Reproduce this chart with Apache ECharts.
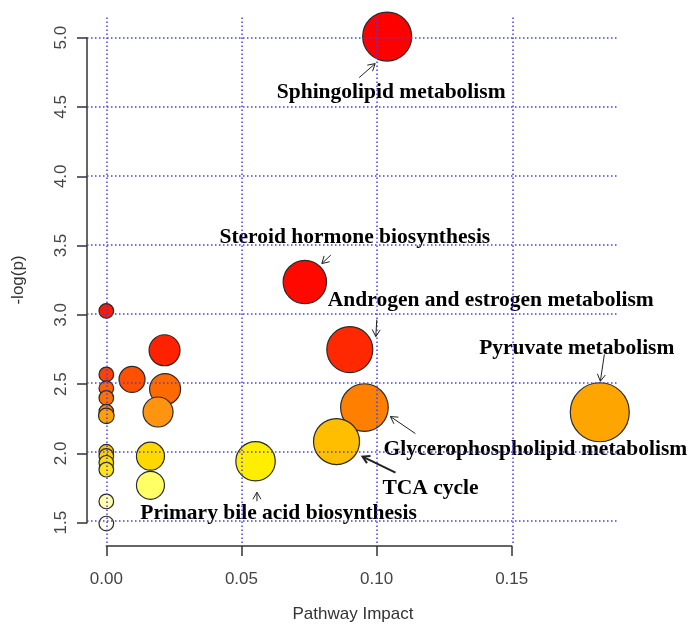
<!DOCTYPE html>
<html>
<head>
<meta charset="utf-8">
<script src="https://cdn.jsdelivr.net/npm/echarts@6/dist/echarts.min.js"></script>
<style>html,body{margin:0;padding:0;background:#fff;}#c{width:693px;height:628px;}</style>
</head>
<body>
<div id="c"></div>
<script>
// ---- data (ordered by -log(p), descending) ----
const pathways = ['Sphingolipid metabolism','Steroid hormone biosynthesis','','Androgen and estrogen metabolism','','','','','','','Glycerophospholipid metabolism','','','Pyruvate metabolism','','TCA cycle','','','','Primary bile acid biosynthesis','','','','',''];
const impact = [0.1037,0.0733,0,0.0899,0.0215,0,0.0095,0,0.0217,0,0.0953,0,0.0191,0.1822,0,0.0850,0,0.0163,0,0.0551,0,0,0.0163,0,0];
const logp   = [5.007,3.229,3.02,2.740,2.735,2.56,2.524,2.46,2.454,2.39,2.32,2.29,2.288,2.286,2.26,2.074,2.0,1.968,1.97,1.931,1.92,1.87,1.757,1.64,1.48];
const bubbleRadius = [24.5,21.7,7.3,23,15.5,7.3,13,7.3,15.5,7.3,23.8,7.3,15,29.5,7.8,23,7.3,14,7.3,19.7,7.3,7.3,14,7.3,7.3];
const colors = ['#FF0000','#FF0800','#FF1A00','#FF2800','#FF2200','#FF4000','#FF5000','#FF6000','#FF6A00','#FF7000','#FF8000','#FF8800','#FF9410','#FFA500','#FFA000','#FFBE00','#FFC800','#FFD800','#FFD000','#FFEE00','#FFDC00','#FFE41A','#FFFF66','#FFFFA8','#FFFFEE'];
const xTicks = [0, 0.05, 0.10, 0.15];
const yTicks = [1.5, 2.0, 2.5, 3.0, 3.5, 4.0, 4.5, 5.0];
const xTickLabels = ['0.00','0.05','0.10','0.15'];
const yTickLabels = ['1.5','2.0','2.5','3.0','3.5','4.0','4.5','5.0'];

// ---- annotation styling (pixel offsets relative to bubble centre) ----
const annot = {
  'Sphingolipid metabolism':        {text:[4,56],   tail:[-28,41], head:[-12,27], w:1},
  'Steroid hormone biosynthesis':   {text:[50,-45], tail:[26,-27], head:[17,-18.5], w:1},
  'Androgen and estrogen metabolism':{text:[141,-49],tail:[27,-30], head:[26,-13], w:1},
  'Pyruvate metabolism':            {text:[-23,-64],tail:[4.6,-58],head:[0.6,-31], w:1},
  'Glycerophospholipid metabolism': {text:[171,42], tail:[51,26],  head:[26,9],   w:1},
  'TCA cycle':                      {text:[94,47],  tail:[59,31],  head:[26,15],  w:2},
  'Primary bile acid biosynthesis': {text:[23,52],  tail:[1.4,40], head:[1.4,31], w:1}
};

const chart = echarts.init(document.getElementById('c'), null, {renderer:'canvas'});
const axisFont = {fontFamily:'Liberation Sans', fontSize:17, color:'#444'};

const data = impact.map((x,i)=>({
  value:[x, logp[i]],
  name: pathways[i],
  symbolSize: bubbleRadius[i]*2,
  itemStyle:{color:colors[i]},
  label: pathways[i] ? {show:true, offset: annot[pathways[i]].text} : {show:false}
}));

const gridColor = '#4040f0';
const option = {
  animation:false,
  backgroundColor:'#fff',
  grid:[
    {left:87, right:74, top:17, bottom:83},
    {left:106.3, right:181.3, top:37.7, bottom:105.3}
  ],
  xAxis:[
    {gridIndex:0, type:'value', min:-0.00713, max:0.1893,
     axisLine:{show:false, onZero:false}, axisTick:{show:false}, axisLabel:{show:false}, splitLine:{show:false},
     name:'Pathway Impact', nameLocation:'middle', nameGap:63,
     nameTextStyle:{fontFamily:'Liberation Sans', fontSize:17, color:'#333'}},
    {gridIndex:1, type:'value', min:0, max:0.15, interval:0.05, offset:23.3,
     axisLine:{show:true, onZero:false, lineStyle:{color:'#333', width:1.5}},
     axisTick:{show:true, length:10, lineStyle:{color:'#333', width:1.5}},
     axisLabel:Object.assign({margin:25, formatter:(v)=>{const k=xTicks.findIndex(t=>Math.abs(t-v)<1e-9);return k>=0?xTickLabels[k]:'';}}, axisFont),
     splitLine:{show:false}}
  ],
  yAxis:[
    {gridIndex:0, type:'value', min:1.339, max:5.149,
     axisLine:{show:false, onZero:false}, axisTick:{show:false}, axisLabel:{show:false}, splitLine:{show:false},
     name:'-log(p)', nameLocation:'middle', nameGap:60, nameRotate:90,
     nameTextStyle:{fontFamily:'Liberation Sans', fontSize:17, color:'#333'}},
    {gridIndex:1, type:'value', min:1.5, max:5.0, interval:0.5, offset:19.3,
     axisLine:{show:true, onZero:false, lineStyle:{color:'#333', width:1.5}},
     axisTick:{show:true, length:10, lineStyle:{color:'#333', width:1.5}},
     axisLabel:Object.assign({rotate:90, margin:17, formatter:(v)=>{const k=yTicks.findIndex(t=>Math.abs(t-v)<1e-9);return k>=0?yTickLabels[k]:'';}}, axisFont),
     splitLine:{show:false}}
  ],
  series:[
    {type:'scatter', xAxisIndex:0, yAxisIndex:0, data:[], z:1, silent:true,
     markLine:{silent:true, symbol:['none','none'], label:{show:false}, animation:false,
       lineStyle:{color:gridColor, type:[1.5,2.5], width:1.5},
       emphasis:{disabled:true},
       data: xTicks.map(v=>({xAxis:v})).concat(yTicks.map(v=>({yAxis:v})))}},
    {type:'scatter', xAxisIndex:0, yAxisIndex:0, z:2, silent:true,
     data:data,
     itemStyle:{borderColor:'#2a2a2a', borderWidth:1.2, opacity:1},
     label:{position:'inside', color:'#000', fontFamily:'Liberation Serif', fontWeight:'bold', fontSize:21.5,
            formatter:'{b}', textBorderWidth:0},
     emphasis:{disabled:true}}
  ]
};
chart.setOption(option);

// arrows from bubble centres
const elements = [];
impact.forEach((x,i)=>{
  const a = annot[pathways[i]];
  if(!a) return;
  const c = chart.convertToPixel({xAxisIndex:0, yAxisIndex:0}, [x, logp[i]]);
  const t = [c[0]+a.tail[0], c[1]+a.tail[1]];
  const h = [c[0]+a.head[0], c[1]+a.head[1]];
  const ang = Math.atan2(h[1]-t[1], h[0]-t[0]);
  const L = 8, spread = Math.PI/6;
  const p1 = [h[0]-L*Math.cos(ang-spread), h[1]-L*Math.sin(ang-spread)];
  const p2 = [h[0]-L*Math.cos(ang+spread), h[1]-L*Math.sin(ang+spread)];
  elements.push({type:'line', shape:{x1:t[0],y1:t[1],x2:h[0],y2:h[1]}, style:{stroke:'#222', lineWidth:a.w}, z:10});
  elements.push({type:'polyline', shape:{points:[p1,h,p2]}, style:{stroke:'#222', lineWidth:a.w, fill:null}, z:10});
});
chart.setOption({graphic:{elements:elements}});
</script>
</body>
</html>
